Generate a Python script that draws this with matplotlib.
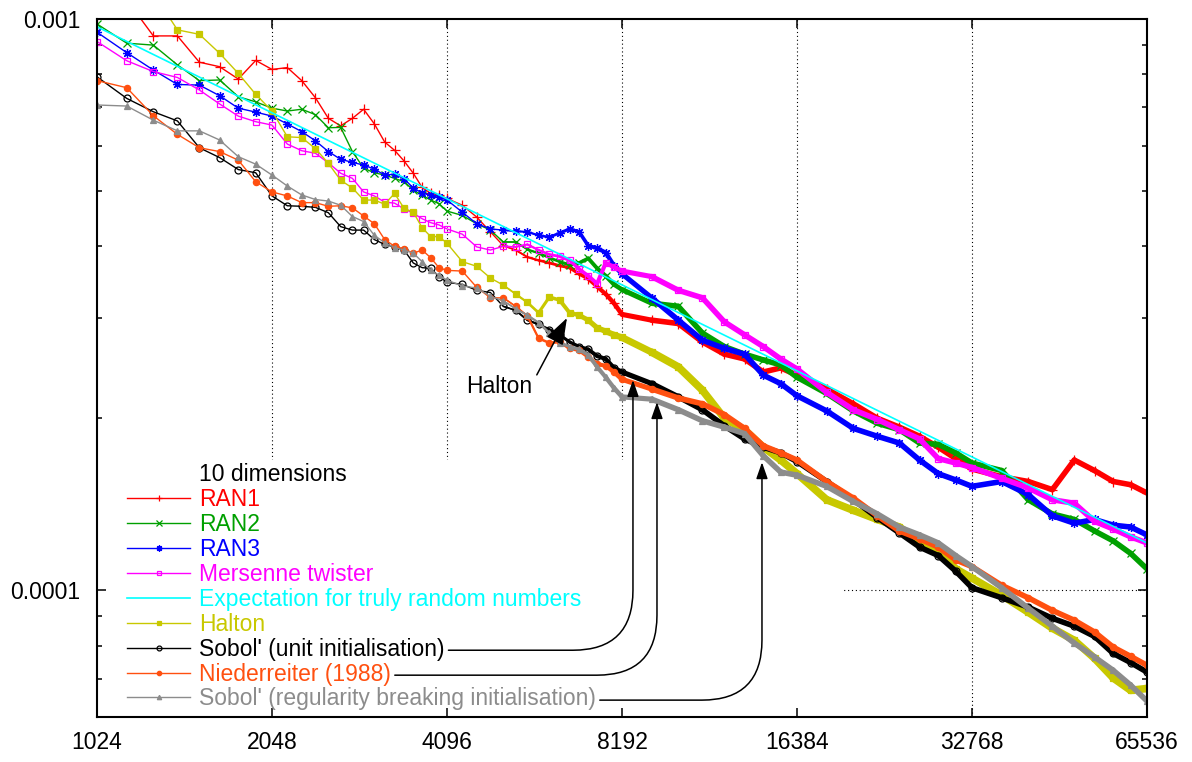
import matplotlib
matplotlib.use('Agg')  # no display
import matplotlib.pyplot as plt
from matplotlib.collections import LineCollection
from matplotlib.lines import Line2D
from matplotlib.patches import Rectangle
from matplotlib.ticker import LogLocator, NullFormatter, NullLocator
import numpy as np

plt.rcParams['font.family'] = ['Liberation Sans', 'DejaVu Sans']

# number of points N (every 128 at the start, coarser further out)
n_points = np.concatenate([
    np.arange(1024, 4097, 128),
    np.arange(4352, 8193, 256),
    np.arange(9216, 16385, 1024),
    np.arange(18432, 32769, 2048),
    np.arange(36864, 65537, 4096),
])

# rms error, in units of 1e-4
ran1 = np.array([
    10.05, 10.8, 9.34, 9.34, 8.40, 8.25, 7.85, 8.46, 8.16, 8.22, 7.80, 7.28, 6.70,
    6.50, 6.70, 6.95, 6.55, 6.09, 5.89, 5.64, 5.37, 5.07, 4.95, 4.92, 4.85,
    4.72, 4.50, 4.24, 4.01, 3.94, 3.83, 3.78, 3.74, 3.70, 3.67, 3.58, 3.51, 3.40, 3.30, 3.18, 3.04,
    2.97, 2.93, 2.72, 2.59, 2.54, 2.41, 2.45, 2.38,
    2.25, 2.12, 2.00, 1.93, 1.86, 1.78, 1.70, 1.63,
    1.58, 1.55, 1.50, 1.69, 1.62, 1.55, 1.53, 1.48]) * 1e-4
ran2 = np.array([
    9.80, 9.07, 9.00, 8.31, 7.80, 7.82, 7.31, 7.16, 6.98, 6.90, 6.95, 6.80, 6.45,
    6.46, 5.86, 5.48, 5.38, 5.33, 5.26, 5.19, 5.02, 4.91, 4.82, 4.75, 4.61,
    4.53, 4.38, 4.27, 4.07, 4.07, 3.95, 3.89, 3.82, 3.76, 3.71, 3.74, 3.81, 3.66, 3.55, 3.43, 3.36,
    3.18, 3.14, 2.82, 2.67, 2.59, 2.53, 2.48, 2.36,
    2.21, 2.06, 1.96, 1.91, 1.81, 1.80, 1.74, 1.67,
    1.62, 1.44, 1.36, 1.33, 1.27, 1.22, 1.16, 1.09]) * 1e-4
ran3 = np.array([
    9.48, 8.73, 8.14, 7.68, 7.66, 7.34, 6.98, 6.87, 6.76, 6.55, 6.35, 6.12, 5.86,
    5.68, 5.61, 5.55, 5.46, 5.33, 5.35, 5.25, 5.06, 4.96, 4.91, 4.87, 4.82,
    4.59, 4.38, 4.29, 4.27, 4.25, 4.24, 4.18, 4.15, 4.22, 4.29, 4.24, 4.01, 3.97, 3.90, 3.70, 3.58,
    3.25, 2.97, 2.74, 2.65, 2.59, 2.38, 2.30, 2.19,
    2.06, 1.92, 1.86, 1.81, 1.69, 1.60, 1.56, 1.52,
    1.55, 1.47, 1.35, 1.31, 1.33, 1.30, 1.29, 1.25]) * 1e-4
mersenne = np.array([
    9.13, 8.45, 8.09, 7.90, 7.51, 7.10, 6.76, 6.61, 6.52, 6.04, 5.88, 5.82, 5.60,
    5.37, 5.26, 4.98, 4.90, 4.78, 4.76, 4.65, 4.57, 4.47, 4.40, 4.36, 4.29,
    4.20, 3.99, 3.94, 4.00, 3.99, 4.03, 3.94, 3.87, 3.84, 3.78, 3.65, 3.55, 3.44, 3.74, 3.68, 3.62,
    3.54, 3.35, 3.25, 2.95, 2.80, 2.67, 2.54, 2.44,
    2.22, 2.07, 1.99, 1.91, 1.84, 1.70, 1.67, 1.64,
    1.57, 1.51, 1.44, 1.42, 1.32, 1.28, 1.24, 1.21]) * 1e-4
halton = np.array([
    12.5, 11.8, 11.1, 9.57, 9.40, 8.71, 8.03, 7.38, 6.90, 6.22, 6.20, 5.93, 5.59,
    5.22, 5.06, 4.82, 4.82, 4.74, 4.95, 4.66, 4.59, 4.31, 4.16, 4.16, 4.05,
    3.76, 3.69, 3.52, 3.42, 3.30, 3.19, 3.06, 3.26, 3.22, 3.06, 3.03, 2.97, 2.88, 2.84, 2.80, 2.77,
    2.61, 2.46, 2.24, 2.00, 1.91, 1.78, 1.69, 1.60,
    1.44, 1.38, 1.33, 1.29, 1.22, 1.17, 1.09, 1.05,
    0.98, 0.915, 0.858, 0.817, 0.760, 0.702, 0.668, 0.673]) * 1e-4
sobol_unit = np.array([
    7.92, 7.26, 6.88, 6.63, 5.95, 5.72, 5.45, 5.38, 4.90, 4.71, 4.70, 4.68, 4.58,
    4.33, 4.27, 4.27, 4.11, 4.03, 3.99, 3.94, 3.74, 3.67, 3.66, 3.54, 3.46,
    3.43, 3.35, 3.32, 3.14, 3.09, 2.97, 2.92, 2.86, 2.80, 2.72, 2.67, 2.64, 2.57, 2.54, 2.45, 2.41,
    2.30, 2.18, 2.07, 1.94, 1.84, 1.78, 1.74, 1.68,
    1.55, 1.44, 1.34, 1.26, 1.19, 1.15, 1.08, 1.01,
    0.97, 0.934, 0.893, 0.865, 0.830, 0.775, 0.747, 0.719]) * 1e-4
niederreiter = np.array([
    7.80, 7.58, 6.77, 6.28, 5.95, 5.86, 5.66, 5.19, 4.98, 4.90, 4.77, 4.77, 4.70,
    4.71, 4.67, 4.52, 4.38, 4.11, 4.00, 3.96, 3.89, 3.94, 3.82, 3.67, 3.63,
    3.62, 3.39, 3.25, 3.25, 3.14, 3.02, 2.76, 2.71, 2.72, 2.65, 2.63, 2.56, 2.49, 2.47, 2.41, 2.34,
    2.25, 2.17, 2.12, 2.03, 1.92, 1.79, 1.74, 1.69,
    1.55, 1.45, 1.35, 1.27, 1.23, 1.19, 1.13, 1.10,
    1.02, 0.97, 0.922, 0.886, 0.845, 0.795, 0.766, 0.739]) * 1e-4
sobol_rb = np.array([
    7.07, 7.04, 6.65, 6.37, 6.37, 6.14, 5.74, 5.57, 5.33, 5.10, 4.92, 4.83, 4.80,
    4.72, 4.51, 4.42, 4.18, 4.06, 3.98, 3.94, 3.89, 3.76, 3.63, 3.56, 3.49,
    3.41, 3.38, 3.27, 3.21, 3.11, 3.03, 2.94, 2.82, 2.71, 2.67, 2.64, 2.58, 2.46, 2.36, 2.26, 2.18,
    2.16, 2.07, 1.98, 1.93, 1.88, 1.72, 1.61, 1.59,
    1.52, 1.43, 1.36, 1.29, 1.25, 1.21, 1.15, 1.10,
    1.01, 0.93, 0.865, 0.808, 0.764, 0.724, 0.682, 0.640]) * 1e-4

# expectation for truly random numbers (straight line in log-log)
expect_n = [1024, 65536]
expect_v = np.array([9.69, 1.21]) * 1e-4

x_ticks = [1024, 2048, 4096, 8192, 16384, 32768, 65536]
grid_x = [2048, 4096, 8192, 16384, 32768]

# arrow targets (N, value) for the annotations
halton_tip = (6588, 2.996e-4)
halton_text = (5033, 2.277e-4)
sobol_tip = (8556, 2.333e-4)
nied_tip = (9410, 2.134e-4)
sobol_rb_tip = (14263, 1.675e-4)

FS = 16.5

fig, ax = plt.subplots(figsize=(11.92, 7.62), dpi=100)
fig.subplots_adjust(left=0.0814, right=0.9622, bottom=0.0591, top=0.9751)
ax.set_xscale('log', base=2)
ax.set_yscale('log')
ax.set_xlim(1024, 65536)
ax.set_ylim(6e-5, 1e-3)

# dotted grid, hidden behind the key area
for gx in grid_x:
    ax.axvline(gx, color='black', lw=0.8, ls=(0, (1, 2.5)), zorder=1)
ax.axhline(1e-4, color='black', lw=0.8, ls=(0, (1, 2.5)), zorder=1)
ax.add_patch(Rectangle((0, 0), 0.71, 0.368, transform=ax.transAxes,
                       facecolor='white', edgecolor='none', zorder=1.5))

# markers every 128 points merge into a band once they crowd together
mid_n = np.sqrt(n_points[:-1] * n_points[1:])
ramp = np.clip(np.log2(mid_n / 5120) / np.log2(9216 / 5120), 0, 1)

handles = []
colors = []


def plot_series(vals, label, color, marker, ms, fill=True, band=4.0):
    kw = dict(marker=marker, ms=ms, mew=0.9, color=color)
    if not fill:
        kw['mfc'] = 'none'
    line, = ax.plot(n_points, vals, lw=1.0, label=label, zorder=2, **kw)
    pts = np.column_stack([n_points, vals])
    segs = np.stack([pts[:-1], pts[1:]], axis=1)
    widths = 1.0 + (band - 1.0) * ramp
    keep = ramp > 0
    ax.add_collection(LineCollection(segs[keep], linewidths=widths[keep], colors=color,
                                     capstyle='round', joinstyle='round', zorder=2))
    handles.append(line)
    colors.append(color)


plot_series(ran1, 'RAN1', '#ff0000', '+', 7)
plot_series(ran2, 'RAN2', '#00a000', 'x', 5.5)
plot_series(ran3, 'RAN3', '#0000ff', (8, 2, 0), 6.5)
plot_series(mersenne, 'Mersenne twister', '#ff00ff', 's', 5, fill=False)

exp_line, = ax.plot(expect_n, expect_v, color='#00ffff', lw=1.2, zorder=3,
                    label='Expectation for truly random numbers')
handles.append(exp_line)
colors.append('#00ffff')

plot_series(halton, 'Halton', '#c8c800', 's', 5, band=5.5)
plot_series(sobol_unit, "Sobol' (unit initialisation)", '#000000', 'o', 5, fill=False)
plot_series(niederreiter, 'Niederreiter (1988)', '#ff5010', 'o', 4.5)
plot_series(sobol_rb, "Sobol' (regularity breaking initialisation)", '#8c8c8c', '^', 4.5)

# key, with a blank first row used as its title
title_row = Line2D([], [], color='none')
leg = ax.legend([title_row] + handles, ['10 dimensions'] + [h.get_label() for h in handles],
                loc='lower left', bbox_to_anchor=(0.029, 0.0093), frameon=False,
                fontsize=FS, handlelength=2.75, handletextpad=0.36, labelspacing=0.085,
                borderpad=0, borderaxespad=0, numpoints=1, markerscale=0.7)
for txt, col in zip(leg.get_texts(), ['black'] + colors):
    txt.set_color(col)
leg.set_zorder(5)

arrow = dict(arrowstyle='-|>,head_length=1.0,head_width=0.35', color='black', lw=1.1,
             shrinkA=3, shrinkB=0)
texts = leg.get_texts()
for idx, tip in [(7, sobol_tip), (8, nied_tip), (9, sobol_rb_tip)]:
    ax.annotate('', xy=tip, xycoords='data', xytext=(1.0, 0.45), textcoords=texts[idx],
                arrowprops=dict(connectionstyle='angle,angleA=0,angleB=90,rad=60', **arrow),
                zorder=6)

ax.annotate('Halton', xy=halton_tip, xytext=halton_text, ha='center', va='center',
            fontsize=FS, arrowprops=dict(relpos=(1.0, 0.6), **arrow), zorder=6)

ax.set_xticks(x_ticks)
ax.set_xticklabels([str(t) for t in x_ticks])
ax.xaxis.set_minor_locator(NullLocator())
ax.set_yticks([1e-4, 1e-3])
ax.set_yticklabels(['0.0001', '0.001'])
ax.yaxis.set_minor_locator(LogLocator(base=10, subs=np.arange(2, 10)))
ax.yaxis.set_minor_formatter(NullFormatter())
ax.tick_params(which='both', direction='in', top=True, right=True, width=1.1,
               labelsize=FS)
ax.tick_params(which='major', length=6.5)
ax.tick_params(which='minor', length=3.5)
ax.tick_params(axis='x', pad=10)
ax.tick_params(axis='y', pad=12)
for sp in ax.spines.values():
    sp.set_linewidth(1.5)
    sp.set_zorder(4)

plt.savefig('out.png', dpi=100)
plt.close()
